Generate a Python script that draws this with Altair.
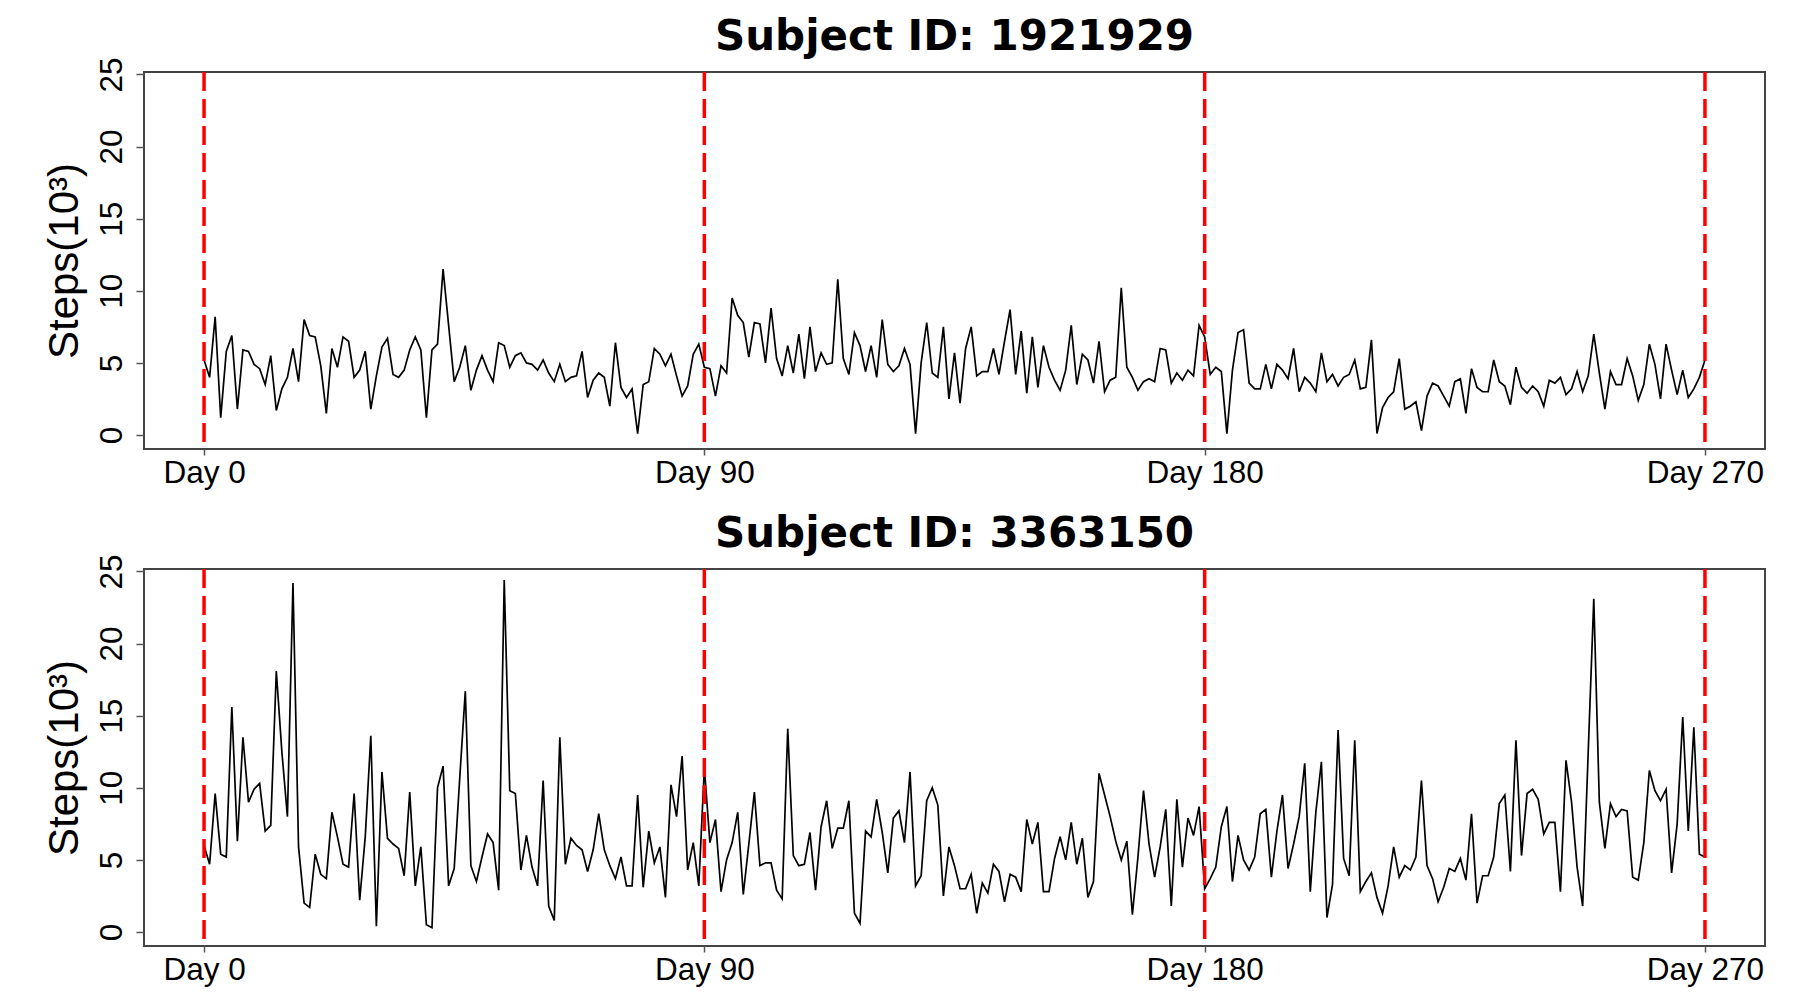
import altair as alt
import pandas as pd

days = list(range(271))

steps_1921929 = [
    5.2, 4.0, 8.2, 1.2, 5.8, 6.9, 1.8, 5.9, 5.8, 4.9,
    4.6, 3.5, 5.5, 1.7, 3.2, 4.0, 6.0, 3.7, 8.0, 6.9,
    6.8, 4.8, 1.5, 6.0, 4.7, 6.8, 6.5, 4.0, 4.5, 5.8,
    1.8, 4.1, 6.1, 6.7, 4.2, 4.0, 4.5, 5.9, 6.8, 5.9,
    1.2, 5.9, 6.3, 11.5, 7.6, 3.7, 4.7, 6.2, 3.1, 4.5,
    5.5, 4.5, 3.7, 6.4, 6.2, 4.7, 5.5, 5.7, 5.0, 4.9,
    4.5, 5.2, 4.3, 3.7, 4.9, 3.7, 4.0, 4.1, 5.8, 2.6,
    3.8, 4.3, 4.0, 2.0, 6.4, 3.3, 2.6, 3.2, 0.1, 3.5,
    3.7, 6.0, 5.6, 4.8, 5.6, 4.1, 2.7, 3.4, 5.6, 6.3,
    4.7, 4.6, 2.7, 4.8, 4.3, 9.5, 8.3, 7.8, 5.4, 7.8,
    7.7, 5.0, 8.8, 5.3, 4.1, 6.2, 4.3, 7.0, 3.9, 7.5,
    4.4, 5.7, 4.9, 5.0, 10.8, 5.3, 4.2, 7.1, 6.2, 4.4,
    6.2, 4.0, 8.0, 4.9, 4.4, 4.8, 6.0, 4.9, 0.1, 5.0,
    7.8, 4.3, 4.0, 7.5, 2.5, 5.7, 2.2, 6.0, 7.5, 4.1,
    4.4, 4.4, 6.0, 4.2, 6.5, 8.7, 4.2, 7.2, 2.9, 6.8,
    3.3, 6.2, 4.7, 3.8, 3.1, 4.5, 7.6, 3.5, 5.6, 5.2,
    3.6, 6.5, 3.0, 3.8, 4.0, 10.2, 4.7, 4.0, 3.1, 3.7,
    3.9, 3.7, 6.0, 5.9, 3.6, 4.3, 3.8, 4.5, 4.1, 7.6,
    6.8, 4.2, 4.7, 4.4, 0.1, 4.5, 7.1, 7.3, 3.6, 3.2,
    3.2, 4.9, 3.2, 4.9, 4.5, 3.9, 6.0, 3.0, 4.0, 3.6,
    3.0, 5.7, 3.7, 4.2, 3.4, 4.0, 4.2, 5.2, 3.2, 3.3,
    6.6, 0.1, 1.9, 2.6, 3.0, 5.3, 1.8, 2.0, 2.3, 0.3,
    2.7, 3.6, 3.4, 2.7, 2.0, 3.7, 3.9, 1.5, 4.6, 3.3,
    3.0, 3.0, 5.2, 3.7, 3.4, 2.1, 4.7, 3.3, 2.9, 3.4,
    3.0, 2.0, 3.8, 3.6, 4.0, 2.8, 3.2, 4.4, 3.0, 4.1,
    7.0, 4.3, 1.8, 4.4, 3.5, 3.5, 5.3, 4.1, 2.4, 3.5,
    6.3, 4.9, 2.5, 6.3, 4.5, 2.8, 4.5, 2.6, 3.2, 4.0,
    5.2,
]

steps_3363150 = [
    6.0, 4.7, 9.6, 5.4, 5.2, 15.6, 6.3, 13.5, 9.0, 9.9,
    10.3, 7.0, 7.4, 18.1, 12.5, 8.0, 24.2, 5.9, 2.0, 1.7,
    5.4, 4.0, 3.7, 8.3, 6.6, 4.7, 4.5, 9.6, 2.2, 6.6,
    13.6, 0.4, 11.1, 6.5, 6.1, 5.8, 3.9, 9.7, 3.2, 5.9,
    0.5, 0.3, 10.0, 11.5, 3.2, 4.4, 10.7, 16.7, 4.6, 3.5,
    5.2, 6.8, 6.2, 2.9, 24.4, 9.8, 9.6, 4.3, 6.7, 4.5,
    3.2, 10.5, 1.8, 0.8, 13.5, 4.7, 6.5, 6.0, 5.7, 4.2,
    5.7, 8.2, 5.7, 4.6, 3.7, 5.2, 3.2, 3.2, 9.5, 3.1,
    7.0, 4.8, 5.9, 2.4, 10.2, 8.0, 12.2, 4.3, 6.2, 3.2,
    11.4, 6.2, 7.8, 2.8, 5.0, 6.2, 8.3, 2.6, 6.1, 9.7,
    4.6, 4.8, 4.8, 2.9, 2.3, 14.1, 5.3, 4.6, 4.7, 6.9,
    2.9, 7.3, 9.1, 5.8, 7.2, 7.2, 9.1, 1.3, 0.6, 7.0,
    6.6, 9.2, 6.9, 4.1, 7.9, 8.4, 6.2, 11.1, 3.2, 3.9,
    9.1, 10.0, 8.8, 2.5, 5.9, 4.6, 3.0, 3.0, 4.0, 1.3,
    3.4, 2.7, 4.7, 4.2, 2.1, 4.0, 3.8, 2.8, 7.8, 6.1,
    7.6, 2.8, 2.8, 5.1, 6.6, 5.0, 7.6, 4.7, 6.5, 2.4,
    3.5, 11.0, 9.5, 8.0, 6.3, 5.0, 6.3, 1.2, 5.2, 9.8,
    6.1, 3.8, 5.9, 8.5, 1.8, 9.2, 4.5, 7.9, 6.7, 8.7,
    3.0, 3.7, 4.5, 7.3, 8.7, 3.5, 6.7, 5.0, 4.3, 5.2,
    8.2, 8.5, 3.8, 7.0, 9.5, 4.4, 6.1, 8.0, 11.7, 2.8,
    8.3, 11.8, 1.0, 3.3, 14.0, 5.1, 3.9, 13.3, 2.8, 3.5,
    4.1, 2.4, 1.3, 3.2, 5.9, 3.8, 4.6, 4.3, 5.2, 10.5,
    4.6, 3.7, 2.1, 3.1, 4.4, 4.2, 5.1, 3.6, 8.2, 2.0,
    3.9, 3.9, 5.2, 8.9, 9.5, 4.2, 13.3, 5.3, 9.6, 9.9,
    9.2, 6.8, 7.6, 7.6, 2.8, 11.9, 9.0, 4.5, 1.8, 12.5,
    23.1, 9.0, 5.8, 8.9, 8.0, 8.5, 8.4, 3.8, 3.6, 6.2,
    11.2, 9.8, 9.1, 9.9, 4.1, 7.5, 14.9, 7.0, 14.2, 5.4,
    5.2,
]

day_markers = [0, 90, 180, 270]
y_ticks = [0, 5, 10, 15, 20, 25]
subject_titles = ["Subject ID: 1921929", "Subject ID: 3363150"]
y_title = "Steps(10\u00b3)"

PLOT_W = 1621
PLOT_H = 377


def panel(values, title):
    df = pd.DataFrame({"day": days, "steps": values})
    x_enc = alt.X(
        "day:Q",
        scale=alt.Scale(domain=[-10.8, 280.8], nice=False, zero=False),
        axis=alt.Axis(
            values=day_markers,
            labelExpr="'Day ' + datum.value",
            title=None,
            grid=False,
            domain=False,
            tickSize=6,
            tickColor="#555555",
            tickWidth=1.5,
            labelFont="Liberation Sans",
            labelFontSize=31.5,
            labelColor="black",
            labelPadding=27,
            labelBaseline="alphabetic",
            labelAngle=0,
            labelFlush=False,
            labelOverlap=False,
        ),
    )
    y_enc = alt.Y(
        "steps:Q",
        scale=alt.Scale(domain=[-0.97, 25.17], nice=False, zero=False),
        axis=alt.Axis(
            values=y_ticks,
            title=y_title,
            titleFont="Liberation Sans",
            titleFontSize=42,
            titleFontWeight="normal",
            titleColor="black",
            titleAngle=270,
            titleX=-67,
            titleY=PLOT_H / 2,
            titleBaseline="alphabetic",
            titleAlign="center",
            grid=False,
            domain=False,
            tickSize=8,
            tickColor="#555555",
            tickWidth=1.5,
            labelAngle=270,
            labelAlign="center",
            labelBaseline="alphabetic",
            labelPadding=15,
            labelFont="Liberation Sans",
            labelFontSize=31.5,
            labelColor="black",
            labelFlush=False,
            labelOverlap=False,
        ),
    )
    line = alt.Chart(df).mark_line(color="black", strokeWidth=1.7).encode(
        x=x_enc, y=y_enc
    )
    rules = alt.Chart(pd.DataFrame({"day": day_markers})).mark_rule(
        color="#FF0000", strokeWidth=3.5, strokeDash=[19, 8]
    ).encode(x=alt.X("day:Q"))
    return alt.layer(line, rules).properties(
        width=PLOT_W,
        height=PLOT_H,
        title=alt.TitleParams(
            text=title,
            font="DejaVu Sans",
            fontSize=42,
            fontWeight="bold",
            color="black",
            anchor="middle",
            frame="group",
            baseline="alphabetic",
            offset=-35,
        ),
    )


chart = alt.vconcat(
    panel(steps_1921929, subject_titles[0]),
    panel(steps_3363150, subject_titles[1]),
    spacing=120,
    bounds="flush",
).properties(
    padding={"left": 34, "top": 6, "right": 5, "bottom": 5},
    background="white",
).configure_view(stroke="#444444", strokeWidth=2)

chart.save("out.html", embed_options={"renderer": "svg", "actions": False})
